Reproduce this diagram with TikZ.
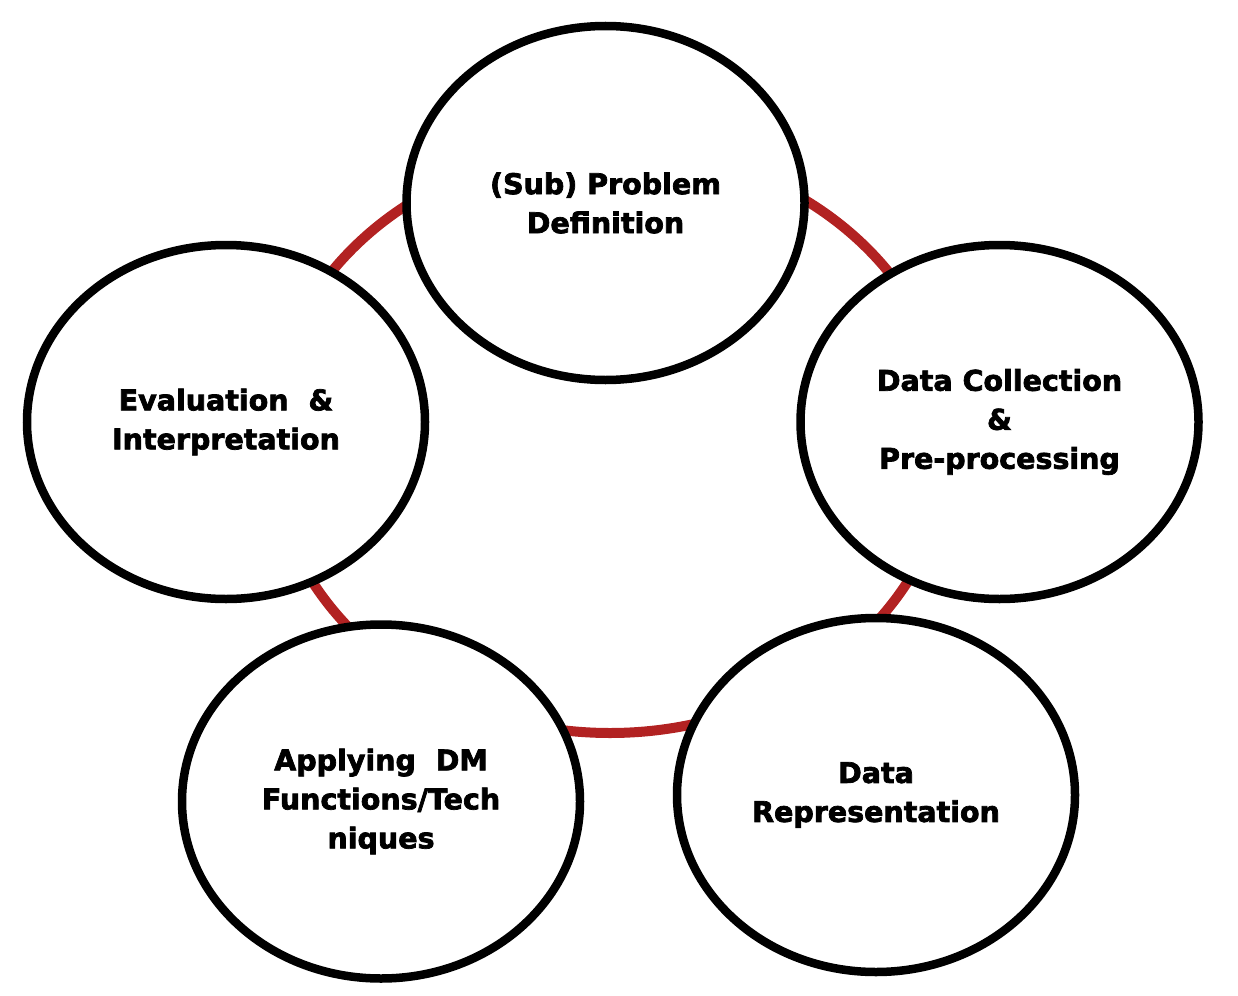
\documentclass[tikz,border=0pt]{standalone}
\usepackage{fontspec}
\setmainfont{DejaVu Sans}[BoldFeatures={FakeBold=2.5}]
\usetikzlibrary{shapes.geometric}
\definecolor{ringred}{RGB}{178,34,34}
\tikzset{
  stage/.style={ellipse, draw=black, line width=8.5pt, fill=white, inner sep=0pt,
    minimum width=398pt, minimum height=354pt, align=center,
    font=\fontsize{28.5pt}{39pt}\selectfont\bfseries},
  ring/.style={draw=ringred, line width=10pt}
}
\begin{document}
\begin{tikzpicture}[x=1pt,y=-1pt]
\useasboundingbox (0,0) rectangle (1238,995);
\draw[ring] (610,440) ellipse (340 and 293);
\node[stage] (prob) at (605.5,203) {(Sub) Problem\\Definition};
\node[stage] (coll) at (999.5,422) {Data Collection\\\&\\Pre-processing};
\node[stage] (repr) at (876,795) {Data\\Representation};
\node[stage] (appl) at (381,801.5) {Applying~~DM\\Functions/Tech\\niques};
\node[stage] (eval) at (226,422) {Evaluation~~\&\\Interpretation};
\end{tikzpicture}
\end{document}
